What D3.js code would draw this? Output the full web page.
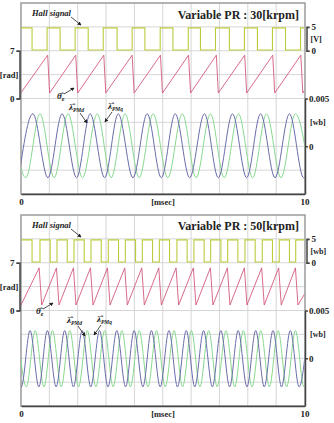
<!DOCTYPE html>
<html>
<head>
<meta charset="utf-8">
<title>Variable PR</title>
<script src="https://d3js.org/d3.v7.min.js"></script>
<style>
body{margin:0;background:#fff;}
svg text{font-family:"Liberation Serif","Times New Roman",serif;font-weight:bold;fill:#222;}
.axis path,.axis line{fill:none;stroke:#444;stroke-width:1.5;}
.axis text{font-family:"Liberation Serif",serif;font-size:9px;font-weight:bold;fill:#222;}
.grid line{stroke:#d6d6d6;stroke-width:1;}
</style>
</head>
<body>
<script>
// ---- data (time in msec) ----
var titles = ["Variable PR : 30[krpm]", "Variable PR : 50[krpm]"];
var hallUnits = ["[V]", "[wb]"];
var xTicks = [0, 10];
var hallTicks = [0, 5];
var thetaTicks = [0, 7];
var fluxTicks = [0, 0.005];

// hall signal: edge times, starts high, alternates fall / rise
var hallEdges30 = [0.39, 0.92, 1.38, 1.91, 2.37, 2.90, 3.39, 3.92, 4.37, 4.91, 5.36, 5.90, 6.33, 6.86, 7.35, 7.88, 8.34, 8.87, 9.33, 9.86];
var hallEdges50 = [0.39, 0.67, 1.03, 1.27, 1.63, 1.87, 2.23, 2.47, 2.83, 3.08, 3.44, 3.68, 4.04, 4.28, 4.64, 4.88, 5.24, 5.50, 5.86, 6.10, 6.46, 6.69, 7.05, 7.29, 7.65, 7.90, 8.26, 8.51, 8.87, 9.11, 9.47, 9.69];
var hallLevels = [0.15, 4.8]; // low, high

// estimated electrical angle (sawtooth vertices)
var saw30T = [0, 0.94, 1.01, 1.93, 2.00, 2.92, 2.99, 3.92, 3.99, 4.92, 4.99, 5.91, 5.98, 6.89, 6.96, 7.89, 7.96, 8.88, 8.95, 9.87, 9.94, 10];
var saw30V = [0.85, 6.35, 0.8, 6.35, 0.8, 6.35, 0.8, 6.35, 0.8, 6.35, 0.8, 6.35, 0.8, 6.35, 0.8, 6.35, 0.8, 6.35, 0.8, 6.35, 0.8, 1.2];
var saw50T = [0, 0.64, 0.73, 1.25, 1.34, 1.85, 1.94, 2.45, 2.54, 3.05, 3.14, 3.66, 3.75, 4.26, 4.35, 4.86, 4.95, 5.47, 5.56, 6.08, 6.17, 6.68, 6.77, 7.28, 7.37, 7.88, 7.97, 8.49, 8.58, 9.09, 9.18, 9.68, 9.77, 10];
var saw50V = [0.8, 6.25, 0.8, 6.25, 0.8, 6.25, 0.8, 6.25, 0.8, 6.25, 0.8, 6.25, 0.8, 6.25, 0.8, 6.25, 0.8, 6.25, 0.8, 6.25, 0.8, 6.25, 0.8, 6.25, 0.8, 6.25, 0.8, 6.25, 0.8, 6.25, 0.8, 6.25, 0.8, 2.4];

// flux linkage: times of extrema (alternating), first entry is a peak or trough
var fluxD30 = [-0.08, 0.42, 0.95, 1.45, 1.96, 2.44, 2.95, 3.43, 3.95, 4.45, 4.95, 5.44, 5.95, 6.47, 6.96, 7.46, 7.96, 8.45, 8.96, 9.47, 9.97, 10.47];
var fluxQ30 = [-0.33, 0.17, 0.67, 1.17, 1.66, 2.17, 2.69, 3.18, 3.67, 4.17, 4.66, 5.18, 5.69, 6.18, 6.68, 7.17, 7.67, 8.17, 8.66, 9.17, 9.68, 10.18];
var fluxD50 = [-0.29, 0.01, 0.32, 0.63, 0.93, 1.24, 1.54, 1.85, 2.16, 2.46, 2.77, 3.07, 3.38, 3.69, 3.99, 4.30, 4.60, 4.91, 5.22, 5.52, 5.83, 6.13, 6.44, 6.75, 7.05, 7.36, 7.66, 7.97, 8.28, 8.58, 8.89, 9.19, 9.50, 9.81, 10.11];
var fluxQ50 = [-0.11, 0.19, 0.50, 0.81, 1.11, 1.42, 1.72, 2.03, 2.34, 2.64, 2.95, 3.25, 3.56, 3.86, 4.17, 4.48, 4.78, 5.09, 5.40, 5.70, 6.01, 6.31, 6.62, 6.92, 7.23, 7.54, 7.84, 8.15, 8.46, 8.76, 9.07, 9.37, 9.68, 9.98, 10.29];
var fluxStartD = ["trough", "peak"];
var fluxStartQ = ["peak", "peak"];
var fluxLevels30 = [-0.0033, 0.0034];
var fluxLevels50 = [-0.0030, 0.0029];

var width = 334, height = 423;
var left = 21, right = 304.5;
var panelTop = [3, 215], panelH = 191;

var svg = d3.select("body").append("svg")
  .attr("width", width).attr("height", height)
  .style("background", "#fff");

var defs = svg.append("defs");
defs.append("marker").attr("id", "arr")
  .attr("viewBox", "0 0 6 6").attr("refX", 5).attr("refY", 3)
  .attr("markerWidth", 4).attr("markerHeight", 4)
  .attr("markerUnits", "userSpaceOnUse").attr("orient", "auto")
  .append("path").attr("d", "M0,0L6,3L0,6z").attr("fill", "#222");

var x = d3.scaleLinear().domain([0, 10]).range([left, right]);
var fmt = d3.format("");

function buildHall(edges) {
  var pts = [{t: 0, v: hallLevels[1]}];
  edges.forEach(function(e, i) {
    pts.push({t: e, v: i % 2 == 0 ? hallLevels[0] : hallLevels[1]});
  });
  pts.push({t: 10, v: pts[pts.length - 1].v});
  return pts;
}

function buildFlux(times, start, levels) {
  var s = start == "peak" ? 1 : 0;
  return times.map(function(t, i) { return {t: t, v: levels[(i + s) % 2]}; });
}

function drawPanel(p, cfg) {
  var top = panelTop[p], bottom = top + panelH;
  var g = svg.append("g");
  var div = d3.scaleLinear().domain([0, 8]).range([top, bottom]);
  var hallY = d3.scaleLinear().domain([0, 5]).range([div(2), div(1)]);
  var thetaY = d3.scaleLinear().domain([0, 7]).range([div(4), div(2)]);
  var fluxY = d3.scaleLinear().domain([-0.005, 0.005]).range([div(8), div(4)]);

  // grid
  var grid = g.append("g").attr("class", "grid");
  grid.selectAll(".gx").data(x.ticks(10).slice(1, -1)).enter().append("line")
    .attr("x1", function(d) { return x(d); }).attr("x2", function(d) { return x(d); })
    .attr("y1", top).attr("y2", bottom);
  grid.selectAll(".gy").data(d3.range(1, 8)).enter().append("line")
    .attr("x1", left).attr("x2", right)
    .attr("y1", function(d) { return div(d); }).attr("y2", function(d) { return div(d); });

  // frame
  g.append("rect").attr("x", left).attr("y", top)
    .attr("width", right - left + 0.5).attr("height", panelH)
    .attr("fill", "none").attr("stroke", "#9a9a9a").attr("stroke-width", 1.5);

  var clipId = "clip" + p;
  defs.append("clipPath").attr("id", clipId).append("rect")
    .attr("x", left).attr("y", top).attr("width", right - left).attr("height", panelH);
  var plot = g.append("g").attr("clip-path", "url(#" + clipId + ")");

  var hallLine = d3.line().curve(d3.curveStepAfter)
    .x(function(d) { return x(d.t); }).y(function(d) { return hallY(d.v); });
  plot.append("path").datum(buildHall(cfg.hall))
    .attr("d", hallLine).attr("fill", "none")
    .attr("stroke", "#bccb3c").attr("stroke-width", 1.1);

  var sawLine = d3.line()
    .x(function(d) { return x(d[0]); }).y(function(d) { return thetaY(d[1]); });
  plot.append("path").datum(d3.zip(cfg.sawT, cfg.sawV))
    .attr("d", sawLine).attr("fill", "none")
    .attr("stroke", "#d45a7c").attr("stroke-width", 0.9);

  var fluxLine = d3.line().curve(d3.curveMonotoneX)
    .x(function(d) { return x(d.t); }).y(function(d) { return fluxY(d.v); });
  plot.append("path").datum(buildFlux(cfg.fluxQ, fluxStartQ[p], cfg.fluxLevels))
    .attr("d", fluxLine).attr("fill", "none")
    .attr("stroke", "#88d890").attr("stroke-width", 1);
  plot.append("path").datum(buildFlux(cfg.fluxD, fluxStartD[p], cfg.fluxLevels))
    .attr("d", fluxLine).attr("fill", "none")
    .attr("stroke", "#6a6caa").attr("stroke-width", 1);

  // axes
  g.append("g").attr("class", "axis")
    .attr("transform", "translate(0," + bottom + ")")
    .call(d3.axisBottom(x).tickValues(xTicks).tickSize(0).tickPadding(5))
    .select(".domain").attr("stroke-width", 2).attr("stroke", "#555");

  g.append("g").attr("class", "axis")
    .attr("transform", "translate(19.5,0)")
    .call(d3.axisLeft(thetaY).tickValues(thetaTicks).tickSize(3).tickPadding(2).tickFormat(fmt));

  g.append("g").attr("class", "axis")
    .attr("transform", "translate(306.5,0)")
    .call(d3.axisRight(hallY).tickValues(hallTicks).tickSize(3).tickPadding(2).tickFormat(fmt));

  var fAxis = g.append("g").attr("class", "axis")
    .attr("transform", "translate(305,0)")
    .call(d3.axisRight(fluxY).tickValues(fluxTicks).tickSizeInner(3).tickSizeOuter(0)
      .tickPadding(1).tickFormat(fmt));
  fAxis.select(".domain").attr("stroke-width", 2).attr("stroke", "#555");

  // unit labels
  g.append("text").attr("x", 9).attr("y", div(3)).attr("dy", "0.35em")
    .attr("text-anchor", "middle").style("font-size", "8.5px").text("[rad]");
  g.append("text").attr("x", 310.5).attr("y", div(1.5)).attr("dy", "0.35em")
    .style("font-size", "8px").text(hallUnits[p]);
  g.append("text").attr("x", 310).attr("y", div(5)).attr("dy", "0.35em")
    .style("font-size", "8px").text("[wb]");
  g.append("text").attr("x", 163).attr("y", bottom + 8).attr("dy", "0.35em")
    .attr("text-anchor", "middle").style("font-size", "8.5px").text("[msec]");

  // title
  g.append("text").attr("x", 299).attr("y", top + 16 - (p ? 1 : 0))
    .attr("text-anchor", "end").style("font-size", "12px").text(titles[p]);

  // annotations
  var a = cfg.ann;
  g.append("text").attr("x", 32).attr("y", a.hall[1])
    .style("font-size", "8.5px").style("font-style", "italic").text("Hall signal");
  g.append("line").attr("x1", 71).attr("y1", a.hall[1] + 1).attr("x2", 81).attr("y2", a.hall[1] + 9)
    .attr("stroke", "#222").attr("stroke-width", 0.8).attr("marker-end", "url(#arr)");

  var th = g.append("text").attr("x", a.theta[0]).attr("y", a.theta[1])
    .style("font-size", "9px").style("font-style", "italic");
  th.append("tspan").text("\u03b8\u0302");
  th.append("tspan").attr("dy", 2).style("font-size", "6px").text("e");
  g.append("line").attr("x1", a.theta[0] + 7).attr("y1", a.theta[1] - 5)
    .attr("x2", a.theta[0] + 17).attr("y2", a.theta[1] - 11)
    .attr("stroke", "#222").attr("stroke-width", 0.8).attr("marker-end", "url(#arr)");

  [["PMd", a.lamD, 1], ["PMq", a.lamQ, -1]].forEach(function(l) {
    var t = g.append("text").attr("x", l[1][0]).attr("y", l[1][1])
      .style("font-size", "9px").style("font-style", "italic");
    t.append("tspan").text("\u03bb\u0302");
    t.append("tspan").attr("dy", 2).style("font-size", "5.5px").text(l[0]);
    var x0 = l[1][0] + (l[2] > 0 ? 11 : 4);
    g.append("line").attr("x1", x0).attr("y1", l[1][1] + 3)
      .attr("x2", x0 + 7 * l[2]).attr("y2", l[1][1] + 13)
      .attr("stroke", "#222").attr("stroke-width", 0.8).attr("marker-end", "url(#arr)");
  });
}

drawPanel(0, {hall: hallEdges30, sawT: saw30T, sawV: saw30V, fluxD: fluxD30, fluxQ: fluxQ30,
  fluxLevels: fluxLevels30,
  ann: {hall: [32, 16], theta: [57, 99], lamD: [69, 110], lamQ: [108, 109]}});
drawPanel(1, {hall: hallEdges50, sawT: saw50T, sawV: saw50V, fluxD: fluxD50, fluxQ: fluxQ50,
  fluxLevels: fluxLevels50,
  ann: {hall: [32, 228], theta: [36, 314], lamD: [67, 323], lamQ: [97, 322]}});
</script>
</body>
</html>
